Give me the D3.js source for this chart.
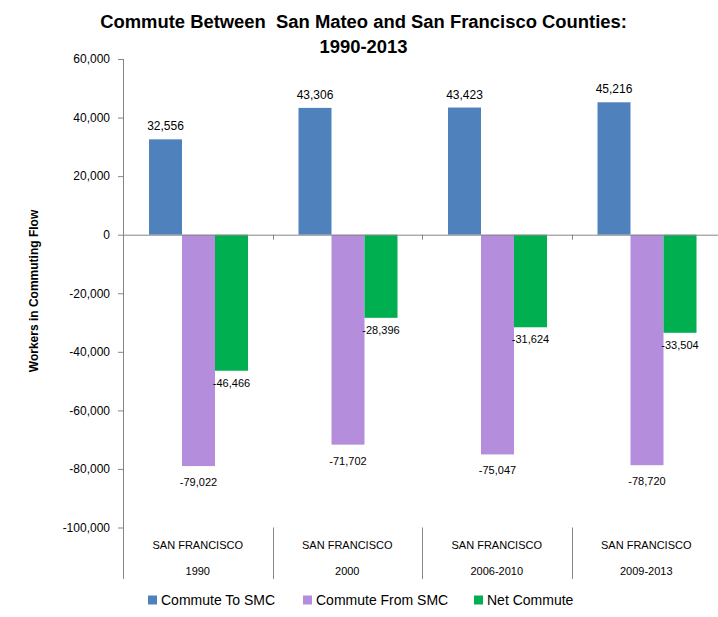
<!DOCTYPE html>
<html>
<head>
<meta charset="utf-8">
<script src="https://cdn.jsdelivr.net/npm/d3@7"></script>
<style>
  html, body { margin: 0; padding: 0; background: #fff; }
  svg { display: block; }
  text { font-family: "Liberation Sans", Arial, sans-serif; fill: #000; }
</style>
</head>
<body>
<svg id="chart" width="718" height="617"></svg>
<script>
// ---- data ----
const categories = ["1990", "2000", "2006-2010", "2009-2013"];
const groupLabel = "SAN FRANCISCO";
const seriesNames = ["Commute To SMC", "Commute From SMC", "Net Commute"];
const commuteTo = [32556, 43306, 43423, 45216];
const commuteFrom = [-79022, -71702, -75047, -78720];
const netCommute = [-46466, -28396, -31624, -33504];
const yTicks = [60000, 40000, 20000, 0, -20000, -40000, -60000, -80000, -100000];
const colors = ["#4F81BD", "#B48EDC", "#00B050"];
const titleLines = ["Commute Between  San Mateo and San Francisco Counties:", "1990-2013"];
const yTitle = "Workers in Commuting Flow";

const seriesValues = [commuteTo, commuteFrom, netCommute];

const svg = d3.select("#chart");
const baseFmt = d3.format(",");
const fmt = v => baseFmt(v).replace("\u2212", "-");

const plotLeft = 123, plotRight = 721;
const y = d3.scaleLinear().domain([60000, -100000]).range([59, 527.5]);
const axisBottom = 579;

const x0 = d3.scaleBand().domain(categories).range([plotLeft, plotRight]).padding(0);
const x1 = d3.scaleBand().domain(seriesNames).range([26, 125]).padding(0);

// helper to fit a text to a width
function fit(sel, target) {
  const n = sel.node();
  const w = n.getComputedTextLength();
  const fs = parseFloat(sel.style("font-size"));
  sel.style("font-size", (fs * target / w) + "px");
}

// title
const t1 = svg.append("text").attr("x", 363.5).attr("y", 28)
  .attr("text-anchor", "middle").style("font-weight", "bold").style("font-size", "18px")
  .style("white-space", "pre").attr("xml:space", "preserve")
  .text(titleLines[0]);
fit(t1, 527);
const fsT = t1.style("font-size");
svg.append("text").attr("x", 363.5).attr("y", 53)
  .attr("text-anchor", "middle").style("font-weight", "bold").style("font-size", fsT)
  .text(titleLines[1]);

// y axis title
svg.append("text")
  .attr("transform", "translate(38,291) rotate(-90)")
  .attr("text-anchor", "middle").style("font-weight", "bold").style("font-size", "12px")
  .text(yTitle);

// y axis
const yAxis = d3.axisLeft(y).tickValues(yTicks).tickFormat(fmt).tickSizeOuter(0).tickSize(5).tickPadding(8);
const gy = svg.append("g").attr("transform", `translate(${plotLeft},0)`).call(yAxis);
gy.select(".domain").remove();
gy.selectAll(".tick line").attr("stroke", "#868686");
gy.selectAll(".tick text").style("font-size", "12px").style("font-family", "'Liberation Sans', Arial, sans-serif").attr("fill", "#000");
svg.append("line").attr("x1", plotLeft + 0.5).attr("x2", plotLeft + 0.5)
  .attr("y1", y(60000)).attr("y2", axisBottom).attr("stroke", "#868686");

// bars
const groups = svg.append("g").selectAll("g").data(categories).join("g")
  .attr("transform", d => `translate(${x0(d)},0)`);

seriesNames.forEach((s, si) => {
  groups.append("rect")
    .attr("x", x1(s))
    .attr("width", x1.bandwidth())
    .attr("y", (d, i) => Math.min(y(seriesValues[si][i]), y(0)))
    .attr("height", (d, i) => Math.abs(y(seriesValues[si][i]) - y(0)))
    .attr("fill", colors[si]);
});

// zero line
svg.append("line").attr("x1", plotLeft).attr("x2", 718)
  .attr("y1", y(0) + 0.5).attr("y2", y(0) + 0.5).attr("stroke", "#868686");
// small ticks on zero line at category boundaries
svg.append("g").selectAll("line").data(categories.slice(1)).join("line")
  .attr("x1", d => Math.round(x0(d)) + 0.5).attr("x2", d => Math.round(x0(d)) + 0.5)
  .attr("y1", y(0)).attr("y2", y(0) + 5).attr("stroke", "#868686");

// data labels
seriesNames.forEach((s, si) => {
  groups.append("text")
    .attr("x", x1(s) + x1.bandwidth() / 2)
    .attr("y", (d, i) => {
      const v = seriesValues[si][i];
      if (v >= 0) return y(v) - 9;
      return y(v) + (si === 1 ? 20 : 16);
    })
    .attr("text-anchor", "middle")
    .style("font-size", (d, i) => seriesValues[si][i] >= 0 ? "12px" : "11px")
    .text((d, i) => fmt(seriesValues[si][i]));
});

// category labels and separators
svg.append("g").selectAll("line").data(categories.slice(1)).join("line")
  .attr("x1", d => Math.round(x0(d)) + 0.5).attr("x2", d => Math.round(x0(d)) + 0.5)
  .attr("y1", y(-100000)).attr("y2", axisBottom).attr("stroke", "#868686");

const catLab = svg.append("g").selectAll("g").data(categories).join("g")
  .attr("transform", d => `translate(${x0(d) + x0.bandwidth() / 2},0)`);
catLab.append("text").attr("y", 549).attr("text-anchor", "middle").style("font-size", "11px").text(groupLabel);
catLab.append("text").attr("y", 575).attr("text-anchor", "middle").style("font-size", "11px").text(d => d);

// legend
const legendX = [148, 303, 474];
const lg = svg.append("g").selectAll("g").data(seriesNames).join("g")
  .attr("transform", (d, i) => `translate(${legendX[i]},600)`);
lg.append("rect").attr("x", 0).attr("y", -4.5).attr("width", 9).attr("height", 9).attr("fill", (d, i) => colors[i]);
lg.append("text").attr("x", 13).attr("y", 5).style("font-size", "14px").text(d => d);
</script>
</body>
</html>
